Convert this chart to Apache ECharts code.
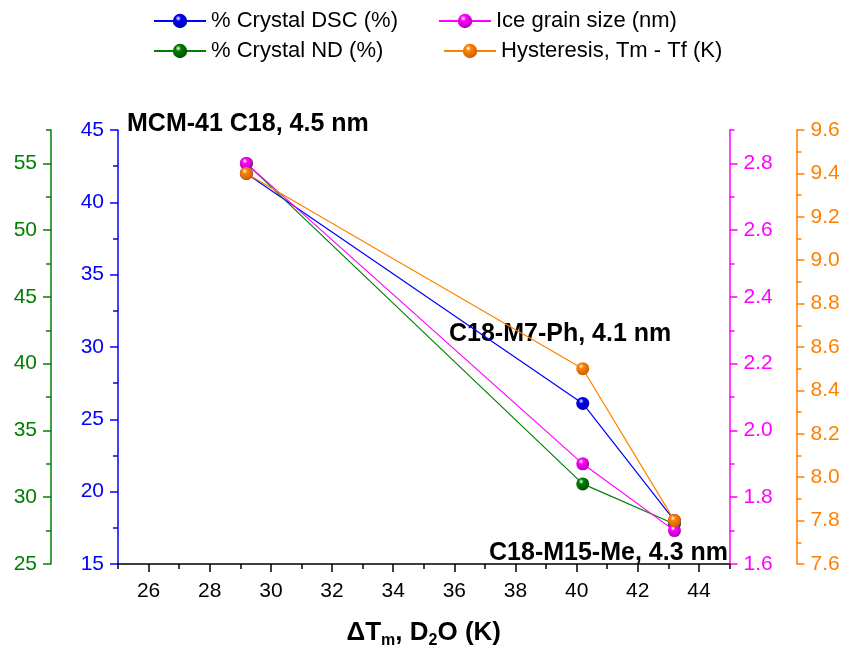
<!DOCTYPE html>
<html><head><meta charset="utf-8">
<script src="https://cdn.jsdelivr.net/npm/echarts@6/dist/echarts.min.js"></script>
<style>html,body{margin:0;padding:0;background:#fff}#c{width:845px;height:646px}</style>
</head><body><div id="c"></div>
<script>
// ---- data ----
const deltaTm = [29.2, 40.2, 43.2];
const crystalDSC = [42, 26.1, 18];
const crystalND = [55, 31, 28];
const iceGrain = [2.8, 1.9, 1.7];
const hysteresis = [9.4, 8.5, 7.8];
const seriesNames = ['% Crystal DSC (%)', '% Crystal ND (%)', 'Ice grain size (nm)', 'Hysteresis, Tm - Tf (K)'];
const annotations = ['MCM-41 C18, 4.5 nm', 'C18-M7-Ph, 4.1 nm', 'C18-M15-Me, 4.3 nm'];
// ticks
const xMajor = [26, 28, 30, 32, 34, 36, 38, 40, 42, 44];
const xMinor = [25, 27, 29, 31, 33, 35, 37, 39, 41, 43, 45];
const blueMajor = [15, 20, 25, 30, 35, 40, 45];
const blueMinor = [17.5, 22.5, 27.5, 32.5, 37.5, 42.5];
const greenMajor = [25, 30, 35, 40, 45, 50, 55];
const greenMinor = [27.5, 32.5, 37.5, 42.5, 47.5, 52.5, 57.5];
const magMajor = [1.6, 1.8, 2.0, 2.2, 2.4, 2.6, 2.8];
const magMinor = [1.7, 1.9, 2.1, 2.3, 2.5, 2.7, 2.9];
const orgMajor = [7.6, 7.8, 8.0, 8.2, 8.4, 8.6, 8.8, 9.0, 9.2, 9.4, 9.6];
const orgMinor = [7.7, 7.9, 8.1, 8.3, 8.5, 8.7, 8.9, 9.1, 9.3, 9.5];

const FONT = 'Liberation Sans, Arial, sans-serif';
const colors = ['#0000ff', '#008000', '#ff00ff', '#ff8000'];
const darks = ['#00009a', '#005000', '#b000b0', '#c85f00'];
const TICKFS = 21;

function sphere(i) {
  return new echarts.graphic.RadialGradient(0.38, 0.32, 0.7, [
    { offset: 0, color: '#ffffff' },
    { offset: 0.28, color: colors[i] },
    { offset: 1, color: darks[i] }
  ]);
}

function yPair(pos, offset, color, min, max, major, minor, digits) {
  const base = {
    type: 'value', position: pos, offset: offset, min: min, max: max,
    splitLine: { show: false }
  };
  return [
    Object.assign({}, base, {
      axisLine: { show: true, onZero: false, lineStyle: { color: color, width: 1.5 } },
      axisTick: { show: true, inside: false, length: 8, customValues: major, lineStyle: { color: color, width: 1.5 } },
      axisLabel: { show: true, customValues: major, color: color, fontSize: TICKFS, fontFamily: FONT, margin: 14,
        formatter: v => Number(v).toFixed(digits) }
    }),
    Object.assign({}, base, {
      axisLine: { show: false },
      axisTick: { show: true, inside: false, length: 5, customValues: minor, lineStyle: { color: color, width: 1.5 } },
      axisLabel: { show: false }
    })
  ];
}

const yAxes = [].concat(
  yPair('left', 0, '#0000ff', 15, 45, blueMajor, blueMinor, 0),
  yPair('left', 67, '#008000', 25, 57.5, greenMajor, greenMinor, 0),
  yPair('right', 0, '#ff00ff', 1.6, 2.9, magMajor, magMinor, 1),
  yPair('right', 67, '#ff8000', 7.6, 9.6, orgMajor, orgMinor, 1)
);
const yIdx = [0, 2, 4, 6];
const values = [crystalDSC, crystalND, iceGrain, hysteresis];

const series = values.map((arr, i) => ({
  name: seriesNames[i], type: 'line', xAxisIndex: 0, yAxisIndex: yIdx[i],
  data: deltaTm.map((x, k) => [x, arr[k]]),
  symbol: 'circle', symbolSize: 13,
  lineStyle: { color: colors[i], width: 1.2 },
  itemStyle: { color: sphere(i), borderWidth: 0 },
  emphasis: { disabled: true },
  z: 2 + i
}));

const legendPos = [
  { left: 153, top: 10 }, { left: 153, top: 40 },
  { left: 438, top: 10 }, { left: 443, top: 40 }
];
const legends = seriesNames.map((n, i) => Object.assign({
  data: [n], orient: 'horizontal', padding: 0, itemWidth: 52, itemHeight: 18, itemGap: 0,
  textStyle: { fontSize: 22, fontFamily: FONT, color: '#000' }, selectedMode: false
}, legendPos[i]));

const chart = echarts.init(document.getElementById('c'), null, { renderer: 'canvas' });
chart.setOption({
  animation: false,
  backgroundColor: '#fff',
  grid: { left: 118, right: 115.5, top: 130, bottom: 82, containLabel: false, outerBoundsMode: 'none' },
  legend: legends,
  xAxis: [
    {
      type: 'value', min: 25, max: 45, position: 'bottom',
      splitLine: { show: false },
      axisLine: { show: true, onZero: false, lineStyle: { color: '#000', width: 1.5 } },
      axisTick: { show: true, inside: false, length: 8, customValues: xMajor, lineStyle: { color: '#000', width: 1.5 } },
      axisLabel: { customValues: xMajor, color: '#000', fontSize: TICKFS, fontFamily: FONT, margin: 17 },
      name: '{a|ΔT}{s|m}{a|, D}{s|2}{a|O (K)}',
      nameLocation: 'middle', nameGap: 53,
      nameTextStyle: {
        rich: {
          a: { fontSize: 26, fontWeight: 'bold', fontFamily: FONT, color: '#000', lineHeight: 32 },
          s: { fontSize: 16, fontWeight: 'bold', fontFamily: FONT, color: '#000', lineHeight: 16, verticalAlign: 'bottom' }
        }
      }
    },
    {
      type: 'value', min: 25, max: 45, position: 'bottom',
      splitLine: { show: false },
      axisLine: { show: false },
      axisTick: { show: true, inside: false, length: 5, customValues: xMinor, lineStyle: { color: '#000', width: 1.5 } },
      axisLabel: { show: false }
    }
  ],
  yAxis: yAxes,
  series: series,
  graphic: [
    { type: 'text', left: 127, top: 112, style: { text: annotations[0], font: 'bold 25px ' + FONT, fill: '#000' } },
    { type: 'text', left: 449, top: 322, style: { text: annotations[1], font: 'bold 25px ' + FONT, fill: '#000' } },
    { type: 'text', right: 117, top: 541, style: { text: annotations[2], font: 'bold 25px ' + FONT, fill: '#000' } }
  ]
});
</script>
</body></html>
